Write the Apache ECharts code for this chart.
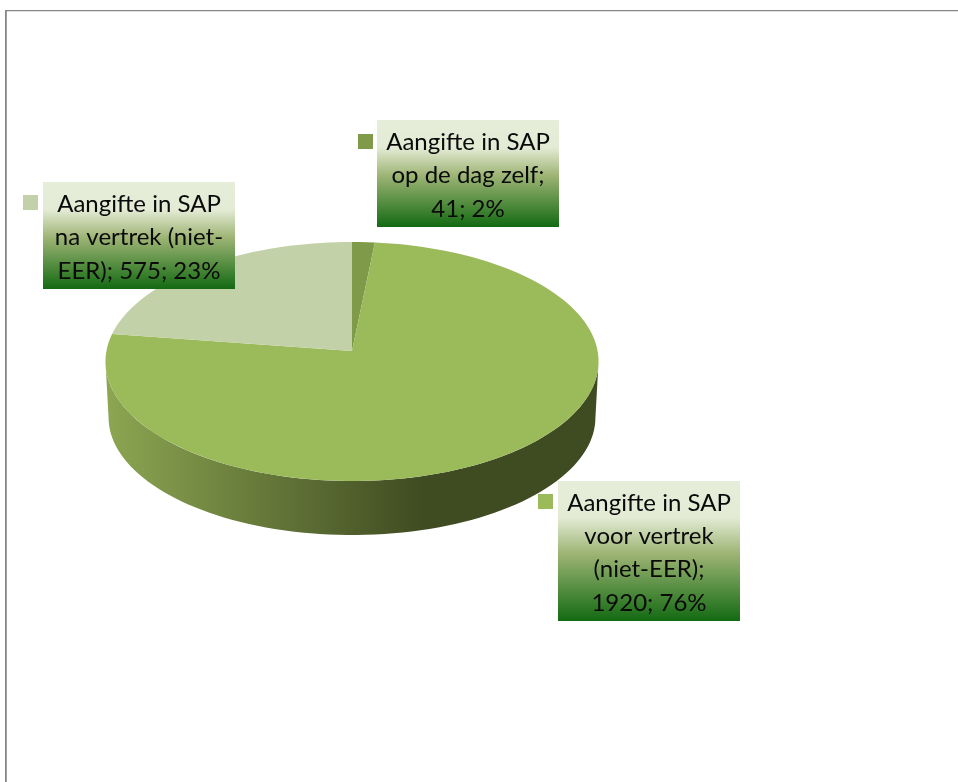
<!DOCTYPE html>
<html><head><meta charset="utf-8">
<style>html,body{margin:0;padding:0;background:#fff}#c{width:958px;height:782px}</style>
<script src="https://cdn.jsdelivr.net/npm/echarts@6/dist/echarts.min.js"></script>
</head><body><div id="c"></div>
<script>
// Data
const categories = ['Aangifte in SAP op de dag zelf', 'Aangifte in SAP voor vertrek (niet-EER)', 'Aangifte in SAP na vertrek (niet-EER)'];
const values = [41, 1920, 575];
const labelLines = [
  ['Aangifte in SAP', 'op de dag zelf;', '41; 2%'],
  ['Aangifte in SAP', 'voor vertrek', '(niet-EER);', '1920; 76%'],
  ['Aangifte in SAP', 'na vertrek (niet-', 'EER); 575; 23%']
];
const sliceColors = ['#7F9A48', '#9BBA5A', '#C3D1A9'];

// Layout
const apex = {x: 352, y: 351, a: 245.6, b: 118.6, k: 0.0879};
const rim = {x: 352, y: 407, a: 242.5, b: 116.8, k: 0.0879};
const boxes = [
  {x: 377, y: 120, w: 182, h: 107, kx: 358, ky: 134},
  {x: 558, y: 481, w: 182, h: 140, kx: 538, ky: 494},
  {x: 43, y: 182, w: 192, h: 107, kx: 23, ky: 195}
];
const lineH = 33.3, fontPx = 24, textDy = 2;

const total = values.reduce((a, b) => a + b, 0);
function proj(p, t) {
  const u = Math.cos(t), v = Math.sin(t), d = 1 + p.k * u;
  return [p.x + p.a * v / d, p.y - p.b * u / d];
}
function arc(p, t0, t1) {
  const n = Math.max(2, Math.ceil(Math.abs(t1 - t0) * 90 / Math.PI)), pts = [];
  for (let i = 0; i <= n; i++) pts.push(proj(p, t0 + (t1 - t0) * i / n));
  return pts;
}
const sideGrad = new echarts.graphic.LinearGradient(0, 0, 1, 0, [
  {offset: 0, color: '#8CA652'}, {offset: 0.645, color: '#3F4B21'}, {offset: 1, color: '#3F4B21'}
]);
const boxGrad = new echarts.graphic.LinearGradient(0, 0, 0, 1, [
  {offset: 0, color: '#E6EEDA'}, {offset: 0.26, color: '#E3EBD5'},
  {offset: 0.52, color: '#9DB474'}, {offset: 1, color: '#136A12'}
]);

function renderPie(params, api) {
  const i = params.dataIndex;
  let before = 0;
  for (let j = 0; j < i; j++) before += values[j];
  const t0 = before / total * 2 * Math.PI;
  const t1 = (before + api.value(0)) / total * 2 * Math.PI;
  const children = [];
  if (t0 < Math.PI && t1 > Math.PI) {
    // visible outer wall, tangent to the rim left and right
    const tr = Math.acos(-apex.k);
    const pts = arc(rim, tr, 2 * Math.PI - tr).concat(arc(apex, 2 * Math.PI - tr, tr));
    children.push({type: 'polygon', shape: {points: pts}, style: {fill: sideGrad}});
  }
  const top = [[apex.x, apex.y]].concat(arc(apex, t0, t1));
  children.push({type: 'polygon', shape: {points: top}, style: {fill: sliceColors[i]}});
  return {type: 'group', children};
}
function renderLabel(params, api) {
  const i = params.dataIndex, b = boxes[i], lines = labelLines[i];
  const children = [
    {type: 'rect', shape: {x: b.x, y: b.y, width: b.w, height: b.h}, style: {fill: boxGrad}},
    {type: 'rect', shape: {x: b.kx, y: b.ky, width: 15, height: 15}, style: {fill: sliceColors[i]}}
  ];
  const y0 = b.y + b.h / 2 - (lines.length - 1) * lineH / 2 + textDy;
  lines.forEach((s, n) => children.push({
    type: 'text',
    style: {text: s, x: b.x + b.w / 2, y: y0 + n * lineH, align: 'center', verticalAlign: 'middle',
      font: fontPx + 'px Lato, Carlito, sans-serif', fill: '#0a0a0a'}
  }));
  return {type: 'group', children};
}

const chart = echarts.init(document.getElementById('c'), null, {renderer: 'canvas'});
chart.setOption({
  animation: false,
  backgroundColor: '#ffffff',
  graphic: [
    {type: 'rect', shape: {x: 5, y: 10, width: 953, height: 1.3}, style: {fill: '#868686'}, silent: true},
    {type: 'rect', shape: {x: 5, y: 10, width: 1.8, height: 772}, style: {fill: '#868686'}, silent: true}
  ],
  series: [
    {type: 'custom', coordinateSystem: 'none', silent: true, z: 2, renderItem: renderPie,
      data: categories.map((n, i) => ({name: n, value: [values[i]]}))},
    {type: 'custom', coordinateSystem: 'none', silent: true, z: 3, renderItem: renderLabel,
      data: categories.map((n, i) => ({name: n, value: [values[i]]}))}
  ]
});
</script></body></html>
